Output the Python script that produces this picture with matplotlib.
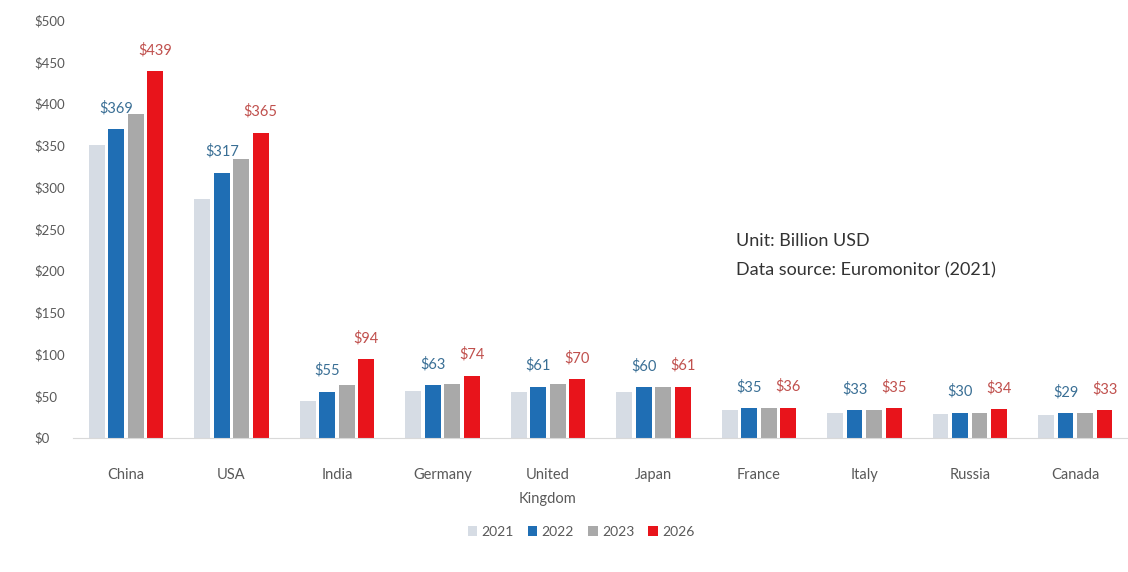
import matplotlib
matplotlib.use("Agg")
import matplotlib.pyplot as plt
import numpy as np

plt.rcParams["font.family"] = ["Lato", "DejaVu Sans"]

countries = ["China", "USA", "India", "Germany", "United\nKingdom",
             "Japan", "France", "Italy", "Russia", "Canada"]
years = ["2021", "2022", "2023", "2026"]
v2021 = [350, 286, 44, 56, 55, 55, 33, 30, 28, 27]
v2022 = [369, 317, 55, 63, 61, 60, 35, 33, 30, 29]
v2023 = [388, 333, 63, 64, 64, 60, 35, 33, 30, 29]
v2026 = [439, 365, 94, 74, 70, 61, 36, 35, 34, 33]
colors = ["#D6DCE4", "#1F6EB4", "#A9A9A9", "#E8141B"]
label_colors = {"2022": "#3A6F95", "2026": "#C0504D"}

series = [v2021, v2022, v2023, v2026]

fig = plt.figure(figsize=(11.28, 5.72), dpi=100)
ax = fig.add_axes([0.065, 0.235, 0.935, 0.73])

x = np.arange(len(countries))
width = 0.15
step = 0.185
for i, (yr, vals) in enumerate(zip(years, series)):
    pos = x + (i - 1.5) * step
    bars = ax.bar(pos, vals, width=width, color=colors[i], label=yr, zorder=2)
    if yr in label_colors:
        for b, v in zip(bars, vals):
            ax.annotate(f"${v}", (b.get_x() + b.get_width() / 2, v),
                        xytext=(0, 10), textcoords="offset points",
                        ha="center", va="bottom", fontsize=10.5,
                        color=label_colors[yr])

ax.set_xlim(-0.5, len(countries) - 0.5)
ax.set_ylim(0, 500)
ax.set_yticks(range(0, 501, 50))
ax.set_yticklabels([f"${t}" for t in range(0, 501, 50)])
ax.set_xticks(x)
ax.set_xticklabels(countries, linespacing=1.9)
ax.tick_params(axis="y", length=0, pad=28, labelsize=9.5, labelcolor="#595959")
ax.tick_params(axis="x", length=0, pad=22, labelsize=10.5, labelcolor="#595959")
for t in ax.get_yticklabels():
    t.set_horizontalalignment("left")

for s in ["top", "right", "left"]:
    ax.spines[s].set_visible(False)
ax.spines["bottom"].set_color("#D9D9D9")

ax.text(0.628, 0.49, "Unit: Billion USD\nData source: Euromonitor (2021)",
        transform=ax.transAxes, fontsize=13, color="#333333",
        va="top", ha="left", linespacing=2.0)

fig.legend(loc="center", bbox_to_anchor=(0.515, 0.07), ncol=4,
           frameon=False, handlelength=0.7, handleheight=0.7,
           handletextpad=0.3, columnspacing=1.0, fontsize=10,
           labelcolor="#595959")

fig.savefig("out.png", dpi=100)
